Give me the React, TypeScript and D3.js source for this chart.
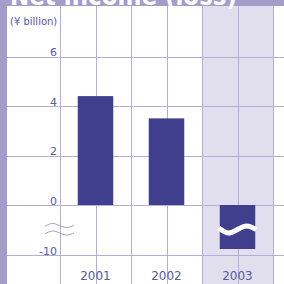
import React from 'react';
import * as d3 from 'd3';

// data
const years = ['2001', '2002', '2003'];
const netIncome = [4.4, 3.5, -8.8]; // 2003 drawn on the broken (compressed) part of the axis
const yTicks = [6, 4, 2, 0, -10];
const title = 'Net income (loss)';
const unitLabel = '(¥ billion)';

const W = 284;
const H = 284;
const purple = '#a59dc9';
const grid = '#b4add6';
const barColor = '#3f3f8e';
const textColor = '#5a5a9c';
const shade = '#e1dfee';

const App = () => {
  const x = d3.scaleBand().domain(years).range([60, 273]).padding(0);
  // piecewise scale: 0..8 is linear, 0..-10 squeezed into one grid step (axis break)
  const y = d3.scaleLinear().domain([-10, 0, 8]).range([255, 205, 7]);

  const bw = x.bandwidth() / 2;

  const wave = (x0: number, x1: number, yc: number, amp: number) => {
    const w = x1 - x0;
    const pts: [number, number][] = [
      [x0, yc - amp * 0.4],
      [x0 + w / 4, yc + amp],
      [x0 + w / 2, yc],
      [x0 + (3 * w) / 4, yc - amp],
      [x1, yc],
    ];
    return d3.line().curve(d3.curveNatural)(pts) || '';
  };

  const vLines: number[] = [];
  years.forEach((yr) => {
    vLines.push(x(yr)!);
    vLines.push(x(yr)! + x.bandwidth() / 2);
  });
  vLines.push(x(years[years.length - 1])! + x.bandwidth());

  const lastYear = years[years.length - 1];

  return (
    <svg
      width={W}
      height={H}
      style={{ position: 'absolute', left: 0, top: 0, background: '#fff' }}
      fontFamily="'DejaVu Sans', sans-serif"
    >
      {/* shaded column for the latest year */}
      <rect x={x(lastYear)} y={6} width={x.bandwidth()} height={H - 6} fill={shade} />

      {/* horizontal grid */}
      {yTicks.map((t) => (
        <line key={'h' + t} x1={7} x2={W} y1={Math.round(y(t)) + 0.5} y2={Math.round(y(t)) + 0.5} stroke={grid} strokeWidth={1} />
      ))}
      {/* vertical grid */}
      {vLines.map((v, i) => (
        <line key={'v' + i} x1={Math.round(v) + 0.5} x2={Math.round(v) + 0.5} y1={6} y2={H} stroke={grid} strokeWidth={1} />
      ))}

      {/* bars */}
      {years.map((yr, i) => {
        const v = netIncome[i];
        const cx = x(yr)! + x.bandwidth() / 2;
        const y0 = y(0);
        const y1 = y(v);
        return (
          <rect key={yr} x={cx - bw / 2} y={Math.min(y0, y1)} width={bw} height={Math.abs(y1 - y0)} fill={barColor} />
        );
      })}
      {/* break on the negative bar */}
      {years.map((yr, i) =>
        netIncome[i] < 0 ? (
          <path
            key={'brk' + yr}
            d={wave(x(yr)! + x.bandwidth() / 2 - bw / 2 - 1, x(yr)! + x.bandwidth() / 2 + bw / 2 + 1, 229.5, 3.5)}
            fill="none"
            stroke="#fff"
            strokeWidth={5}
          />
        ) : null
      )}

      {/* axis break marks */}
      <path d={wave(45, 74, 225.5, -2)} fill="none" stroke={purple} strokeWidth={1} />
      <path d={wave(45, 74, 233, -2)} fill="none" stroke={purple} strokeWidth={1} />

      {/* y tick labels */}
      {yTicks.map((t) => (
        <text key={'t' + t} x={57} y={y(t) - 0.5} textAnchor="end" fontSize={11} fill={textColor}>
          {t}
        </text>
      ))}
      <text x={10} y={25} fontSize={10} fill={textColor}>
        {unitLabel}
      </text>

      {/* x labels */}
      {years.map((yr) => (
        <text key={'x' + yr} x={x(yr)! + x.bandwidth() / 2} y={280} textAnchor="middle" fontSize={12} fill={textColor}>
          {yr}
        </text>
      ))}

      {/* frame: top title band (title cut off as in the source) and left bar */}
      <rect x={0} y={0} width={W} height={6} fill={purple} />
      <rect x={0} y={0} width={7} height={H} fill={purple} />
      <text x={10} y={5} fontSize={26} fontWeight="bold" fill="#fff" textLength={227} lengthAdjust="spacingAndGlyphs">
        {title}
      </text>
    </svg>
  );
};

export default App;
